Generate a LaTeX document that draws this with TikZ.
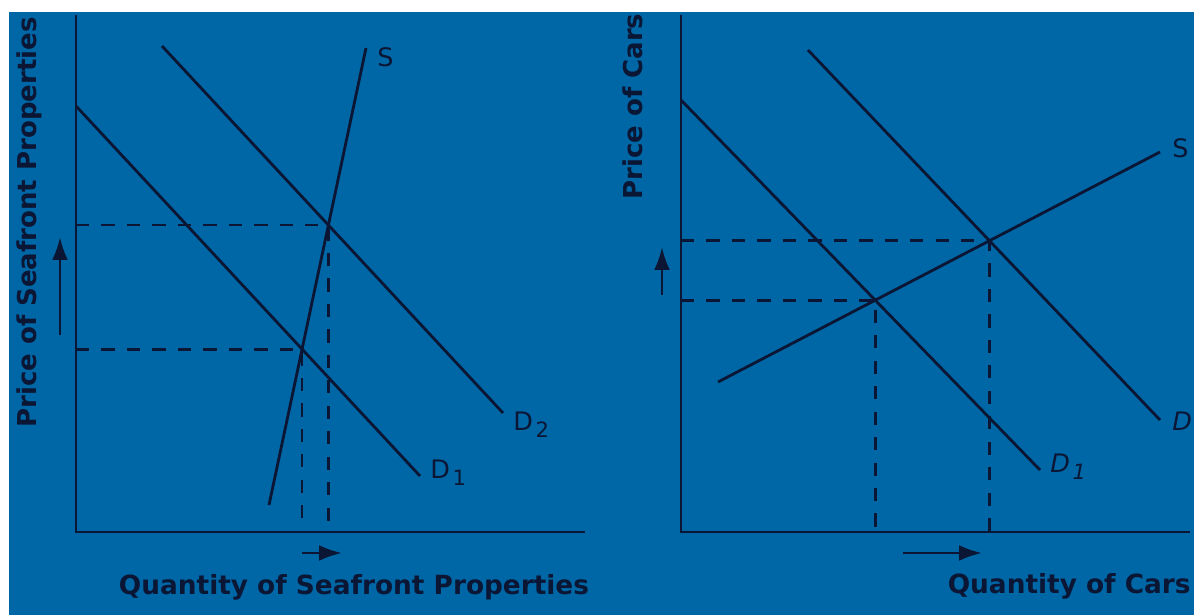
\documentclass[tikz,border=0pt]{standalone}
\usepackage{fontspec}
\setmainfont{DejaVu Sans}
\usetikzlibrary{arrows.meta}
\definecolor{slideblue}{HTML}{0067A7}
\definecolor{ink}{HTML}{0A1633}
\newcommand{\lowidx}[1]{\kern1.5pt\raisebox{-0.55ex}{\fontsize{12}{12}\selectfont #1}}

\begin{document}
\begin{tikzpicture}[x=0.02cm, y=-0.02cm,
    axis/.style={ink, line width=1.6pt},
    curve/.style={ink, line width=1.6pt},
    guide/.style={ink, line width=1.6pt, dash pattern=on 7.5pt off 7pt},
    shift arrow/.style={ink, line width=1.6pt, -{Latex[length=13pt, width=9pt]}},
    axis label/.style={ink, font=\bfseries\fontsize{15}{15}\selectfont, inner sep=0pt},
    price label/.style={ink, font=\bfseries\fontsize{14.8}{14.8}\selectfont, inner sep=0pt, rotate=90},
    curve label/.style={ink, font=\fontsize{14.5}{14.5}\selectfont, inner sep=0pt}]
    % Page in pixel units (1194 x 615), white band at top and left
    \useasboundingbox (0,0) rectangle (1194,615);
    \fill[white] (0,0) rectangle (1194,615);
    \fill[slideblue] (9,12) rectangle (1194,615);
    \begin{scope}
    \clip (9,12) rectangle (1194,615);

    % Left panel: seafront properties
    \coordinate (O1) at (76,532);
    \coordinate (Y1) at (76,15);
    \coordinate (X1) at (585,532);
    \draw[axis] (Y1) -- (O1) -- (X1);

    \coordinate (s1a) at (269,505);
    \coordinate (s1b) at (366,48);
    \coordinate (d1a) at (76,106);
    \coordinate (d1b) at (420,476);
    \coordinate (d2a) at (162,46);
    \coordinate (d2b) at (503,413);
    \draw[curve] (d1a) -- (d1b);
    \draw[curve] (d2a) -- (d2b);
    \draw[curve] (s1a) -- (s1b);

    % Equilibria and their guide lines
    \coordinate (E1) at (intersection of s1a--s1b and d1a--d1b);
    \coordinate (E2) at (intersection of s1a--s1b and d2a--d2b);
    \draw[guide] (O1 |- E1) -- (E1) -- (E1 |- O1);
    \draw[guide] (O1 |- E2) -- (E2) -- (E2 |- O1);

    \node[curve label, anchor=base west] (labS1) at (377,67) {S};
    \node[curve label, anchor=base west] (labD1) at (430,478) {D\lowidx{1}};
    \node[curve label, anchor=base west] (labD2) at (513,430) {D\lowidx{2}};

    \coordinate (up1a) at (60,335);
    \coordinate (up1b) at (60,237);
    \coordinate (rt1a) at (302,553);
    \coordinate (rt1b) at (342,553);
    \draw[shift arrow] (up1a) -- (up1b);
    \draw[shift arrow] (rt1a) -- (rt1b);

    \node[axis label, anchor=base] (qlab1) at (354,594) {Quantity of Seafront Properties};
    \node[price label, anchor=base west] (plab1) at (36,428) {Price of Seafront Properties};

    % Right panel: cars
    \coordinate (O2) at (681,532);
    \coordinate (Y2) at (681,15);
    \coordinate (X2) at (1190,532);
    \draw[axis] (Y2) -- (O2) -- (X2);

    \coordinate (s2a) at (718,382);
    \coordinate (s2b) at (1160,152);
    \coordinate (c1a) at (681,100);
    \coordinate (c1b) at (1040,470);
    \coordinate (c2a) at (808,50);
    \coordinate (c2b) at (1160,420);
    \draw[curve] (c1a) -- (c1b);
    \draw[curve] (c2a) -- (c2b);
    \draw[curve] (s2a) -- (s2b);

    \coordinate (F1) at (intersection of s2a--s2b and c1a--c1b);
    \coordinate (F2) at (intersection of s2a--s2b and c2a--c2b);
    \draw[guide] (O2 |- F1) -- (F1) -- (F1 |- O2);
    \draw[guide] (O2 |- F2) -- (F2) -- (F2 |- O2);

    \node[curve label, anchor=base west] (labS2) at (1172,157) {S};
    \node[curve label, anchor=base west, font=\itshape\fontsize{14.5}{14.5}\selectfont] (labC1) at (1050,472) {D\lowidx{1}};
    \node[curve label, anchor=base west, font=\itshape\fontsize{14.5}{14.5}\selectfont] (labC2) at (1172,430) {D};

    \coordinate (up2a) at (662,295);
    \coordinate (up2b) at (662,247);
    \coordinate (rt2a) at (903,553);
    \coordinate (rt2b) at (982,553);
    \draw[shift arrow] (up2a) -- (up2b);
    \draw[shift arrow] (rt2a) -- (rt2b);

    \node[axis label, anchor=base east] (qlab2) at (1191,593) {Quantity of Cars};
    \node[price label, anchor=base west] (plab2) at (642,200) {Price of Cars};
    \end{scope}
\end{tikzpicture}
\end{document}
